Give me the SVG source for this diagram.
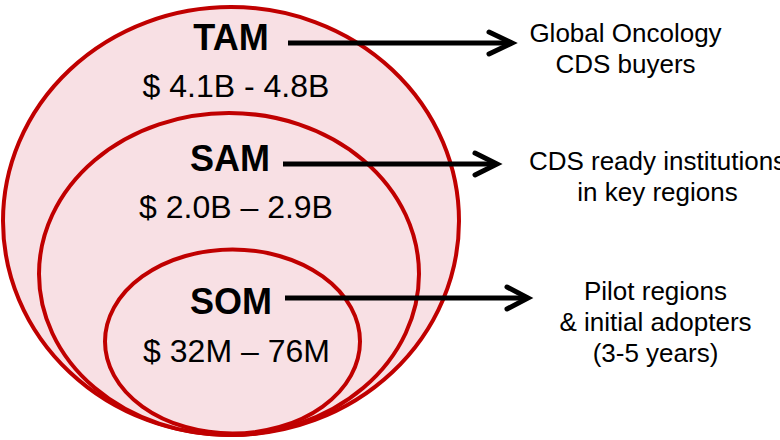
<svg xmlns="http://www.w3.org/2000/svg" width="780" height="440" viewBox="0 0 780 440">
<style>
.ring{fill:#F8E0E4;stroke:#C00000;stroke-width:4}
.lbl{font-family:"Liberation Sans",Arial,sans-serif;font-weight:bold;font-size:36px;fill:#000;text-anchor:middle}
.val{font-family:"Liberation Sans",Arial,sans-serif;font-size:32px;fill:#000;text-anchor:middle}
.desc{font-family:"Liberation Sans",Arial,sans-serif;font-size:26px;fill:#000;text-anchor:middle}
.arr{fill:none;stroke:#000;stroke-width:5}
.head{fill:none;stroke:#000;stroke-width:5;stroke-linecap:round;stroke-linejoin:miter}
</style>
<rect width="780" height="440" fill="#fff"/>
<g id="tam">
<ellipse class="ring" cx="231" cy="221" rx="228" ry="214"/>
<text class="lbl" x="231" y="50">TAM</text>
<text class="val" x="236" y="97">$ 4.1B - 4.8B</text>
</g>
<g id="sam">
<ellipse class="ring" cx="229" cy="274" rx="190" ry="161"/>
<text class="lbl" x="230" y="171">SAM</text>
<text class="val" x="236" y="218">$ 2.0B – 2.9B</text>
</g>
<g id="som">
<ellipse class="ring" cx="232.5" cy="341.5" rx="127.5" ry="92"/>
<text class="lbl" x="231" y="314">SOM</text>
<text class="val" x="236.5" y="362">$ 32M – 76M</text>
</g>
<g id="desc-tam">
<text class="desc" x="625.5" y="42">Global Oncology</text>
<text class="desc" x="625.5" y="73">CDS buyers</text>
</g>
<g id="desc-sam">
<text class="desc" x="657.5" y="170">CDS ready institutions</text>
<text class="desc" x="657.5" y="201">in key regions</text>
</g>
<g id="desc-som">
<text class="desc" x="655.5" y="300">Pilot regions</text>
<text class="desc" x="655.5" y="331">&amp; initial adopters</text>
<text class="desc" x="655.5" y="362">(3-5 years)</text>
</g>
<g id="connectors">
<line class="arr" x1="288" y1="43" x2="510" y2="43"/>
<polyline class="head" points="489,32 512,43 489,54"/>
<line class="arr" x1="283" y1="164" x2="495" y2="164"/>
<polyline class="head" points="475,153 497,164 475,175"/>
<line class="arr" x1="285" y1="298" x2="526" y2="298"/>
<polyline class="head" points="507,287 528,298 507,309"/>
</g>
</svg>
